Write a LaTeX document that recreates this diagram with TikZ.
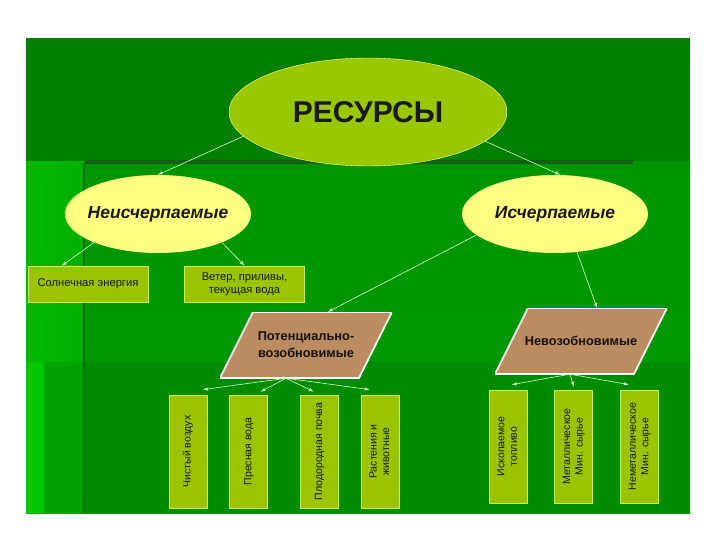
\documentclass[tikz,border=0pt]{standalone}
\usepackage{fontspec}
\setmainfont{Liberation Sans}
\usepackage{graphicx}
\usepackage{tikz}
\usetikzlibrary{positioning,arrows,shapes.geometric}
\definecolor{panelDark}{RGB}{0,126,0}
\definecolor{panelMid}{RGB}{0,152,0}
\definecolor{panelLight}{RGB}{0,184,0}
\definecolor{panelLow}{RGB}{0,140,0}
\definecolor{panelEdge}{RGB}{0,200,0}
\definecolor{lineDark}{RGB}{20,95,20}
\definecolor{limeCol}{RGB}{153,200,0}
\definecolor{yellowCol}{RGB}{255,255,130}
\definecolor{boxCol}{RGB}{155,195,0}
\definecolor{boxLine}{RGB}{205,235,90}
\definecolor{paraCol}{RGB}{186,140,96}
\definecolor{arrowCol}{RGB}{210,255,200}
\definecolor{inkCol}{RGB}{25,25,25}
\tikzset{
  top/.style={ellipse, minimum width=278pt, minimum height=108pt, inner sep=0pt, fill=limeCol, draw=yellowCol!70, text=inkCol, font=\fontsize{30}{32}\selectfont\bfseries},
  kind/.style={ellipse, minimum width=186pt, minimum height=78pt, inner sep=0pt, fill=yellowCol, text=inkCol, font=\fontsize{17.5}{20}\selectfont\bfseries\itshape},
  flat/.style={rectangle, minimum width=120pt, minimum height=36pt, inner sep=0pt, fill=boxCol, draw=boxLine, thick, text=inkCol, align=center, font=\fontsize{11.2}{13}\selectfont},
  tall/.style={rectangle, minimum width=38pt, minimum height=113pt, inner sep=0pt, fill=boxCol, draw=boxLine, thick, text=inkCol},
  para/.style={rectangle, minimum width=172pt, minimum height=66pt, inner sep=0pt, text=inkCol!80!paraCol!40!black, align=center, font=\fontsize{12.8}{17}\selectfont\bfseries,
    path picture={\filldraw[fill=paraCol, draw=white, line width=1.6pt]
      ([xshift=33pt]path picture bounding box.north west) -- (path picture bounding box.north east)
      -- ([xshift=-33pt]path picture bounding box.south east) -- (path picture bounding box.south west) -- cycle;}},
  connect/.style={-latex, line width=0.6pt, draw=arrowCol}
}
\newcommand{\boxfont}{\fontsize{10.5}{12.5}\selectfont}
\newcommand{\vtext}[1]{\rotatebox{90}{\boxfont\begin{tabular}{@{}c@{}}#1\end{tabular}}}
\newcommand{\slim}[1]{\makebox[0pt]{#1}}

\begin{document}
\begin{tikzpicture}[x=1pt,y=-1pt]
  \useasboundingbox[fill=white] (0,0) rectangle (720,540);
  % background panel
  \fill[panelDark] (26,38) rectangle (690,162);
  \fill[top color=panelMid!90!panelDark, bottom color=panelMid] (26,162) rectangle (690,513);
  \fill[left color=panelLight, right color=panelLight!70!panelMid] (26,162) rectangle (84,513);
  \fill[panelLow] (44,362) rectangle (690,513);
  \fill[panelEdge] (26,362) rectangle (44,513);
  \fill[panelMid!70!panelLight] (44,362) rectangle (84,513);
  \draw[lineDark, line width=4pt] (85,162) -- (633,162);
  \draw[lineDark!70!panelMid, line width=1.5pt] (84,164) -- (84,513);

  \node[top] (Resources) at (368,112) {\slim{РЕСУРСЫ}};
  \node[kind] (Inexhaust) at (158,214) {\slim{Неисчерпаемые}};
  \node[kind] (Exhaust) at (555,214) {\slim{Исчерпаемые}};

  \node[flat] (Solar) at (88,284) {Солнечная энергия};
  \node[flat] (Wind) at (244.5,284) {Ветер, приливы,\\текущая вода};

  \node[para] (Renew) at (306,345) {Потенциально-\\возобновимые};
  \node[para] (Nonrenew) at (581,341) {Невозобновимые};

  \node[tall] (Air) at (188,451.5) {\vtext{Чистый воздух}};
  \node[tall] (Water) [right=22pt of Air] {\vtext{Пресная вода}};
  \node[tall] (Soil) [right=32pt of Water] {\vtext{Плодородная почва}};
  \node[tall] (Life) [right=22pt of Soil] {\vtext{Растения и\\животные}};

  \node[tall] (Fuel) at (508,446.5) {\vtext{Ископаемое\\топливо}};
  \node[tall] (Metal) [right=27pt of Fuel] {\vtext{Металлическое\\Мин. сырье}};
  \node[tall] (Nonmetal) [right=27pt of Metal] {\vtext{Неметаллическое\\Мин. сырье}};

  \path (Resources.191) edge [connect] (Inexhaust.north);
  \path (Resources.346) edge [connect] ([xshift=5pt]Exhaust.north);
  \path (Inexhaust.204) edge [connect] ([xshift=-26pt]Solar.north);
  \path (Inexhaust.336) edge [connect] (Wind.north);
  \path (Exhaust.195) edge [connect] ([xshift=22pt]Renew.north);
  \path (Exhaust.300) edge [connect] ([xshift=16pt]Nonrenew.north);

  \path ([xshift=-20pt]Renew.south) edge [connect] ([xshift=15pt,yshift=5pt]Air.north);
  \path ([xshift=-20pt]Renew.south) edge [connect] ([xshift=12pt,yshift=3pt]Water.north);
  \path ([xshift=-20pt]Renew.south) edge [connect] ([xshift=-6pt,yshift=3pt]Soil.north);
  \path ([xshift=-20pt]Renew.south) edge [connect] ([xshift=-11pt,yshift=5pt]Life.north);

  \path ([xshift=-11pt]Nonrenew.south) edge [connect] ([xshift=4pt,yshift=5pt]Fuel.north);
  \path ([xshift=-11pt]Nonrenew.south) edge [connect] ([yshift=3pt]Metal.north);
  \path ([xshift=-11pt]Nonrenew.south) edge [connect] ([xshift=-11pt,yshift=5pt]Nonmetal.north);
\end{tikzpicture}
\end{document}
